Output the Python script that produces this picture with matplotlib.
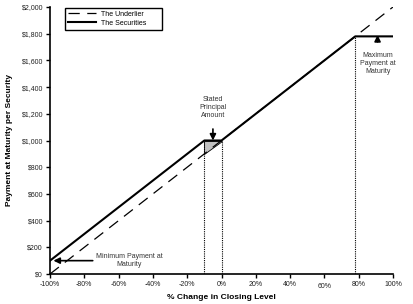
import matplotlib.pyplot as plt
import numpy as np

# payoff data (x in % change, y in $)
underlier_x = [-100, 100]
underlier_y = [0, 2000]
securities_x = [-100, -10, 0, 78, 100]
securities_y = [100, 1000, 1000, 1780, 1780]
shade_x = [-10, -10, 0]
shade_y = [900, 1000, 1000]
marker_x = [-10, 0, 78]
marker_y = [1000, 1000, 1780]

x_ticks = [-100, -80, -60, -40, -20, 0, 20, 40, 60, 80, 100]
y_ticks = list(range(0, 2001, 200))

plt.rcParams['font.family'] = ['Liberation Sans', 'DejaVu Sans']

fig = plt.figure(figsize=(4.13, 3.04), dpi=100)
ax = fig.add_axes([50 / 413, 30 / 304, 343 / 413, 267 / 304])

ax.plot(underlier_x, underlier_y, color="black", lw=0.9, dashes=(9, 6),
        label="The Underlier")
ax.plot(securities_x, securities_y, color="black", lw=1.5,
        label="The Securities")
ax.fill(shade_x, shade_y, facecolor="#c0c0c0", edgecolor="black", lw=0.6)
for mx, my in zip(marker_x, marker_y):
    ax.plot([mx, mx], [0, my], color="black", lw=0.8, ls=(0, (1, 1)))

ax.set_xlim(-100, 100)
ax.set_ylim(0, 2000)
ax.set_xticks(x_ticks)
ax.set_xticklabels([f"{t}%" for t in x_ticks])
ax.set_yticks(y_ticks)
ax.set_yticklabels([f"${t:,}" for t in y_ticks])
for sp in ("top", "right"):
    ax.spines[sp].set_visible(False)
for sp in ("left", "bottom"):
    ax.spines[sp].set_linewidth(1.2)
ax.tick_params(axis="both", labelsize=5, length=3, width=1, pad=2,
               labelcolor="#222222")
# the 60% label sits a little low in the original
ax.get_xticklabels()[8].set_y(-0.007)

ax.set_xlabel("% Change in Closing Level", fontsize=6, fontweight="bold", labelpad=3)
ax.set_ylabel("Payment at Maturity per Security", fontsize=6, fontweight="bold", labelpad=6)

ax.legend(loc="upper left", bbox_to_anchor=(65 / 413, 273 / 304, 97 / 413, 23 / 304),
          bbox_transform=fig.transFigure, mode="expand", borderaxespad=0,
          fancybox=False, edgecolor="black", framealpha=1, fontsize=5,
          handlelength=4.0, handletextpad=0.8, labelspacing=0.3)

arrow = dict(arrowstyle="-|>", color="black", lw=1.2, mutation_scale=9)
ax.annotate("Minimum Payment at\nMaturity", xy=(-98, 100), xytext=(-54, 100),
            fontsize=5, ha="center", va="center", color="#333333",
            arrowprops=dict(arrow, shrinkA=0, shrinkB=0, relpos=(0, 0.5)))
ax.annotate("Stated\nPrincipal\nAmount", xy=(-5, 1000), xytext=(-5, 1245),
            fontsize=5, ha="center", va="center", color="#333333",
            arrowprops=dict(arrow, shrinkA=5, shrinkB=0))
ax.annotate("Maximum\nPayment at\nMaturity", xy=(91, 1790), xytext=(91, 1580),
            fontsize=5, ha="center", va="center", color="#333333",
            arrowprops=dict(arrow, shrinkA=5, shrinkB=0))

fig.savefig("out.png", dpi=100)
